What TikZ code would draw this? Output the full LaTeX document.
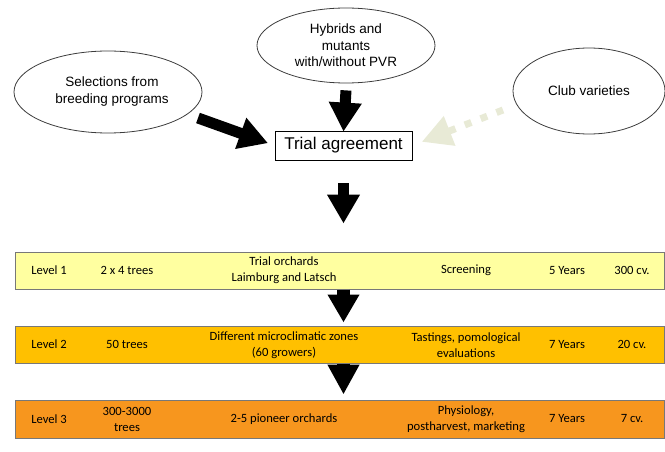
\documentclass[tikz,border=0pt]{standalone}
\usepackage{fontspec}
\setmainfont{Liberation Sans}
\newfontfamily\barfont{Carlito}
\usetikzlibrary{shapes.geometric,arrows.meta}
\definecolor{lvA}{RGB}{255,255,160}
\definecolor{lvB}{RGB}{255,192,0}
\definecolor{lvC}{RGB}{247,150,30}
\definecolor{barline}{RGB}{120,120,120}
\definecolor{ellline}{RGB}{60,60,60}
\definecolor{faint}{RGB}{232,234,214}
\tikzset{
  src/.style={ellipse, draw=ellline, line width=0.8pt, inner sep=0pt, align=center,
    font=\fontsize{13.5}{17}\selectfont},
  agree/.style={rectangle, draw=black, line width=0.8pt, inner sep=0pt,
    minimum width=137pt, minimum height=29pt, font=\fontsize{17}{20}\selectfont},
  levelbar/.style={rectangle, draw=barline, line width=1pt, inner sep=0pt,
    minimum width=649pt},
  bt/.style={align=center, inner sep=0pt, font=\barfont\fontsize{12.6}{16}\selectfont},
  blk/.style={line width=11pt, black, -{Triangle[length=29pt,width=31pt]}},
  faintarrow/.style={line width=7pt, faint, dash pattern=on 7pt off 10pt,
    -{Triangle[length=30pt,width=30pt]}}
}
\begin{document}
\begin{tikzpicture}[x=1pt,y=-1pt]
\useasboundingbox (0,0) rectangle (665,452);

% sources
\node[src, minimum width=188pt, minimum height=82pt] (sel) at (108,92) {};
\node[align=center, inner sep=0pt, font=\fontsize{13.5}{17}\selectfont] (selt) at (112,92) {Selections from\\breeding programs};
\node[src, minimum width=178pt, minimum height=75pt] (hyb) at (346,45.5)
  {Hybrids and\\[-0.5pt]mutants\\[-0.5pt]with/without PVR};
\node[src, minimum width=152pt, minimum height=86pt] (club) at (589,91) {Club varieties};

\node[agree] (trial) at (343.5,145.5) {Trial agreement};

\coordinate (selout) at (198,118);
\coordinate (clubout) at (503,110);

% arrows into the agreement
\draw[blk] (hyb.south) ++(0,7) -- ([yshift=-1pt]trial.north);
\draw[blk, shorten >=7pt] (selout) -- (trial.west);
\draw[faintarrow, shorten >=10pt] (clubout) -- (trial.east);

% levels
\node[levelbar, fill=lvA, minimum height=37pt] (l1) at (339.5,270.5) {};
\node[levelbar, fill=lvB, minimum height=37pt] (l2) at (339.5,344.5) {};
\node[levelbar, fill=lvC, minimum height=38pt] (l3) at (339.5,419) {};

\draw[blk, shorten <=23pt, shorten >=28pt] (trial.south) -- (trial |- l1.north);
\draw[blk, line width=13pt, -{Triangle[length=28pt,width=30pt]}, shorten >=3pt] (trial |- l1.south) -- (trial |- l2.north);
\draw[blk, line width=13pt, -{Triangle[length=30pt,width=30pt]}, shorten >=5pt] (trial |- l2.south) -- (trial |- l3.north);

% level 1 texts
\node[bt] (l1a) at (49,270.5) {Level 1};
\node[bt] (l1b) at (127,270.5) {2 x 4 trees};
\node[bt] (l1c) at (284,270) {Trial orchards\\Laimburg and Latsch};
\node[bt] (l1d) at (466,270.5) {Screening};
\node[bt] (l1e) at (567,270.5) {5 Years};
\node[bt] (l1f) at (632,270.5) {300 cv.};

% level 2 texts
\node[bt] (l2a) at (49,344.5) {Level 2};
\node[bt] (l2b) at (127,344.5) {50 trees};
\node[bt] (l2c) at (284,345) {Different microclimatic zones\\(60 growers)};
\node[bt] (l2d) at (466,345) {Tastings, pomological\\evaluations};
\node[bt] (l2e) at (567,344.5) {7 Years};
\node[bt] (l2f) at (632,344.5) {20 cv.};

% level 3 texts
\node[bt] (l3a) at (49,419) {Level 3};
\node[bt] (l3b) at (127,419) {300-3000\\trees};
\node[bt] (l3c) at (284,419) {2-5 pioneer orchards};
\node[bt] (l3d) at (466,419) {Physiology,\\postharvest, marketing};
\node[bt] (l3e) at (567,419) {7 Years};
\node[bt] (l3f) at (632,419) {7 cv.};
\end{tikzpicture}
\end{document}
